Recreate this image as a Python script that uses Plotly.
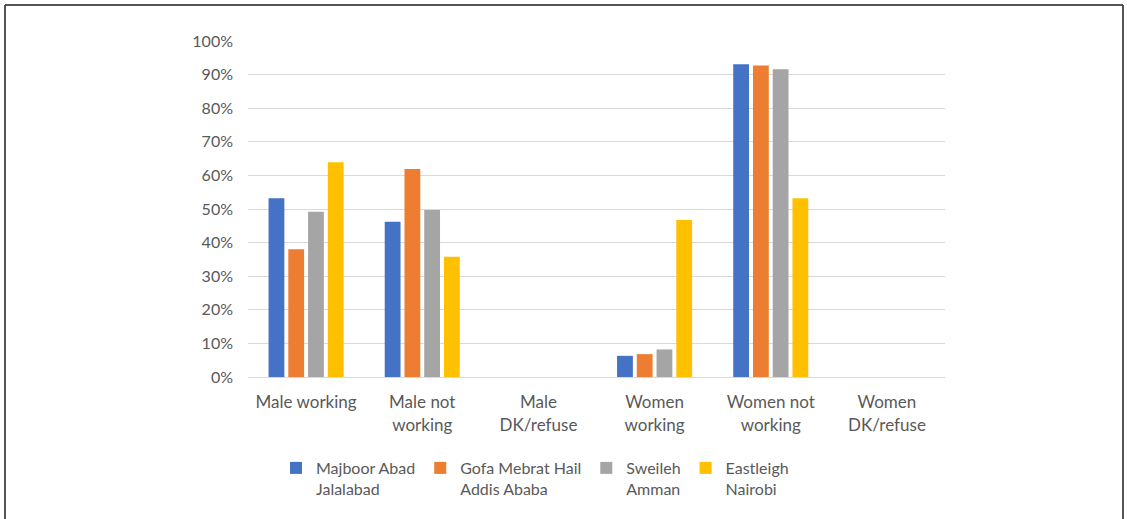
import plotly.graph_objects as go

categories = ["Male working", "Male not<br>working", "Male<br>DK/refuse",
              "Women<br>working", "Women not<br>working", "Women<br>DK/refuse"]
series_names = ["Majboor Abad<br>Jalalabad", "Gofa Mebrat Hail<br>Addis Ababa",
                "Sweileh<br>Amman", "Eastleigh<br>Nairobi"]
majboor = [0.532, 0.462, None, 0.063, 0.931]
gofa = [0.380, 0.619, None, 0.068, 0.927]
sweileh = [0.492, 0.497, None, 0.082, 0.916]
eastleigh = [0.639, 0.358, None, 0.467, 0.532]
colors = ["#4472C4", "#ED7D31", "#A5A5A5", "#FFC000"]
tick_vals = [0, 0.1, 0.2, 0.3, 0.4, 0.5, 0.6, 0.7, 0.8, 0.9, 1.0]

fig = go.Figure()
for name, vals, c in zip(series_names, [majboor, gofa, sweileh, eastleigh], colors):
    fig.add_trace(go.Bar(x=categories[:len(vals)], y=vals, name=name,
                         marker=dict(color=c, line=dict(width=0))))

W, H = 1127, 519
L, R, T, B = 248, 945, 41, 377
fig.update_layout(
    width=W, height=H,
    margin=dict(l=L, r=W - R, t=T, b=H - B, autoexpand=False),
    paper_bgcolor="white", plot_bgcolor="white",
    barmode="group", bargap=0.32, bargroupgap=0.2,
    font=dict(family="Lato, 'Open Sans', sans-serif", size=17, color="#595959"),
    xaxis=dict(categoryorder="array", categoryarray=categories, range=[-0.5, 5.5],
               showgrid=False, showline=True, linecolor="#d9d9d9", linewidth=1,
               ticks="", ticklabelstandoff=10,
               tickfont=dict(size=17, color="#595959"), fixedrange=True),
    yaxis=dict(range=[0, 1.0], tickvals=tick_vals, tickformat=".0%",
               showgrid=True, gridcolor="#d9d9d9", gridwidth=1, zeroline=False,
               showline=False, ticks="", ticklabelstandoff=14,
               tickfont=dict(size=16, color="#595959"), fixedrange=True),
    legend=dict(orientation="h", x=(276 - L) / (R - L), xanchor="left",
                y=(B - 451) / (B - T), yanchor="top", font=dict(size=16, color="#595959"),
                traceorder="normal", itemwidth=30, valign="top", bgcolor="rgba(0,0,0,0)"),
    showlegend=True,
)

# frame around the chart (top, left, right; bottom cut off)
def px_x(p):
    return (p - L) / (R - L)
def px_y(p):
    return (B - p) / (B - T)
frame = dict(type="line", xref="paper", yref="paper", line=dict(color="#555555", width=2))
fig.add_shape(**frame, x0=px_x(5), x1=px_x(1123), y0=px_y(5), y1=px_y(5))
fig.add_shape(**frame, x0=px_x(5), x1=px_x(5), y0=px_y(5), y1=px_y(530))
fig.add_shape(**frame, x0=px_x(1123), x1=px_x(1123), y0=px_y(5), y1=px_y(530))

fig.write_html("out.html")
